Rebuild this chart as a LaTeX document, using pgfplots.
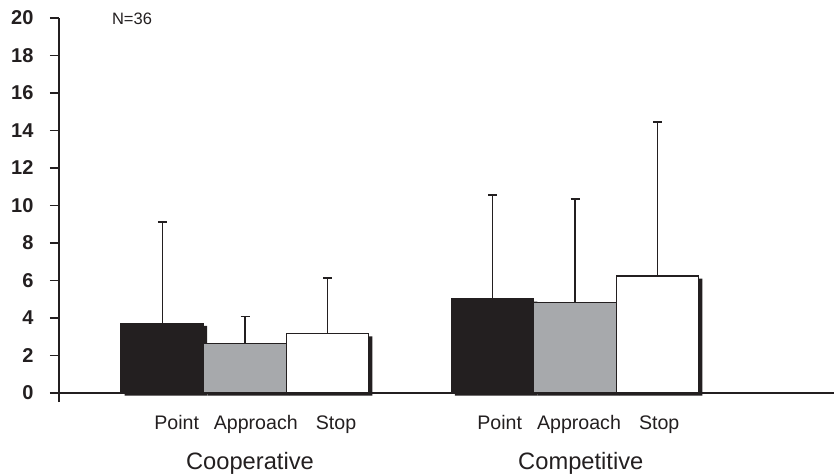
\documentclass[border=0pt]{standalone}
\usepackage{pgfplots}
\pgfplotsset{compat=1.18}
\usepackage{fontspec}
\setmainfont{Liberation Sans}
\definecolor{ink}{HTML}{231F20}
\definecolor{barGray}{HTML}{A7A9AC}
\begin{document}
\begin{tikzpicture}
\begin{axis}[
  name=ax,
  scale only axis,
  width=775pt, height=384pt,
  xmin=59, xmax=834,
  ymin=-0.48, ymax=20,
  axis x line=none,
  axis y line*=left,
  axis line style={line width=1.2pt, color=ink},
  ytick={0,2,...,20},
  tick align=outside,
  major tick length=9pt,
  ytick style={line width=1.3pt, draw=ink},
  /pgf/number format/assume math mode=true,
  yticklabel style={font=\fontsize{20}{24}\selectfont\bfseries, text=ink},
  yticklabel shift=13pt,
  clip=false,
  error bars/error bar style={line width=1.2pt, color=ink},
  error bars/error mark options={rotate=90, mark size=4.5pt, line width=1.2pt, color=ink},
]
% tick marks
\pgfplotsinvokeforeach{0,2,4,6,8,10,12,14,16,18,20}{\draw[line width=1.3pt, color=ink] (axis cs:59,#1) -- (axis cs:50,#1);}
% shadows
\addplot[ybar, bar shift=0pt, bar width=82.5, fill=ink, draw=none, xshift=3.5pt, yshift=-2.5pt]
  coordinates {(162.3,3.71) (492.5,5.01)};
\addplot[ybar, bar shift=0pt, bar width=82.5, fill=ink, draw=none, xshift=3.5pt, yshift=-2.5pt]
  coordinates {(245,2.64) (575,4.84)};
\addplot[ybar, bar shift=0pt, bar width=82.5, fill=ink, draw=none, xshift=3.5pt, yshift=-2.5pt]
  coordinates {(327.5,3.16) (657.5,6.24)};
% x axis line
\draw[line width=1.2pt, color=ink] (axis cs:59,0) -- (axis cs:834,0);
% bars
\addplot[ybar, bar shift=0pt, bar width=82.5, fill=ink, draw=ink, line width=1.3pt,
  error bars/.cd, y dir=plus, y explicit]
  coordinates {(162.3,3.71) +- (0,5.41) (492.5,5.01) +- (0,5.55)};
\addplot[ybar, bar shift=0pt, bar width=82.5, fill=barGray, draw=ink, line width=1.3pt,
  error bars/.cd, y dir=plus, y explicit]
  coordinates {(245,2.64) +- (0,1.46) (575,4.84) +- (0,5.51)};
\addplot[ybar, bar shift=0pt, bar width=82.5, fill=white, draw=ink, line width=1.3pt,
  error bars/.cd, y dir=plus, y explicit]
  coordinates {(327.5,3.16) +- (0,2.97) (657.5,6.24) +- (0,8.21)};
% texts
\node[font=\fontsize{16.5}{19}\selectfont, text=ink] at (axis cs:132,19.94) {N=36};
\node[font=\fontsize{19.6}{23}\selectfont, text=ink, anchor=base] at (axis cs:176.7,-1.95) {Point};
\node[font=\fontsize{19.6}{23}\selectfont, text=ink, anchor=base] at (axis cs:255.8,-1.95) {Approach};
\node[font=\fontsize{19.6}{23}\selectfont, text=ink, anchor=base] at (axis cs:336,-1.95) {Stop};
\node[font=\fontsize{19.6}{23}\selectfont, text=ink, anchor=base] at (axis cs:499.7,-1.95) {Point};
\node[font=\fontsize{19.6}{23}\selectfont, text=ink, anchor=base] at (axis cs:579,-1.95) {Approach};
\node[font=\fontsize{19.6}{23}\selectfont, text=ink, anchor=base] at (axis cs:659.2,-1.95) {Stop};
\node[font=\fontsize{23.7}{28}\selectfont, text=ink, anchor=base] at (axis cs:250,-4.07) {Cooperative};
\node[font=\fontsize{23.7}{28}\selectfont, text=ink, anchor=base] at (axis cs:580.8,-4.07) {Competitive};
\end{axis}
\pgfresetboundingbox
\path[use as bounding box] ([xshift=-59pt,yshift=-72pt]ax.south west) rectangle ([yshift=18pt]ax.north east);
\end{tikzpicture}
\end{document}
